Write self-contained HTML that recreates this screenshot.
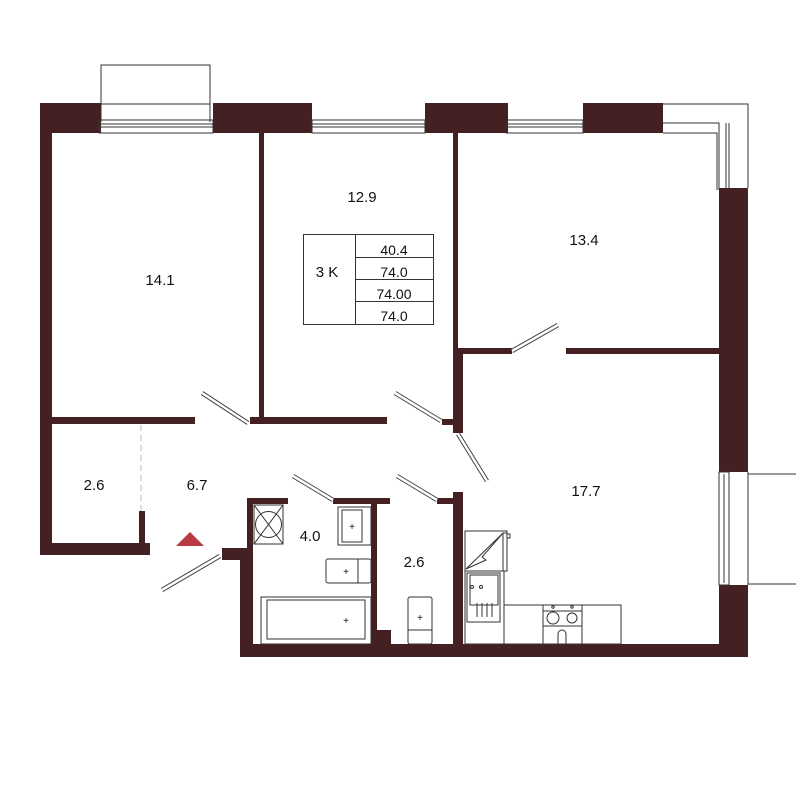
<!DOCTYPE html>
<html><head><meta charset="utf-8"><style>
html,body{margin:0;padding:0;background:#fff;}
svg{display:block}
text{font-family:"Liberation Sans",sans-serif;fill:#111;}
</style></head><body>
<svg width="800" height="800" viewBox="0 0 800 800" xmlns="http://www.w3.org/2000/svg">
<g fill="#452023">
<!-- top wall segments -->
<rect x="40" y="103" width="61" height="30"/>
<rect x="213" y="103" width="99" height="30"/>
<rect x="425" y="103" width="83" height="30"/>
<rect x="583" y="103" width="80" height="30"/>
<!-- left wall -->
<rect x="40" y="103" width="12" height="452"/>
<rect x="40" y="543" width="110" height="12"/>
<rect x="139" y="511" width="6" height="37"/>
<!-- right wall -->
<rect x="719" y="188" width="29" height="284"/>
<rect x="719" y="585" width="29" height="72"/>
<!-- bottom wall -->
<rect x="240" y="644" width="508" height="13"/>
<!-- interior -->
<rect x="259" y="133" width="5" height="290"/>
<rect x="52" y="417" width="143" height="7"/>
<rect x="250" y="417" width="137" height="7"/>
<rect x="453" y="133" width="5" height="300"/>
<rect x="453" y="348" width="10" height="85"/>
<rect x="442" y="419" width="12" height="6"/>
<rect x="463" y="348" width="49" height="6"/>
<rect x="566" y="348" width="153" height="6"/>
<!-- bathroom block -->
<rect x="222" y="548" width="31" height="12"/>
<rect x="240" y="548" width="13" height="109"/>
<rect x="247" y="498" width="6" height="60"/>
<rect x="247" y="498" width="41" height="6"/>
<rect x="333" y="498" width="57" height="6"/>
<rect x="371" y="498" width="6" height="146"/>
<rect x="371" y="630" width="20" height="14"/>
<rect x="437" y="498" width="16" height="6"/>
<rect x="453" y="492" width="10" height="152"/>
</g>
<g fill="none" stroke="#333" stroke-width="1">
<!-- balcony top -->
<rect x="101" y="65" width="109" height="39"/>
<line x1="101" y1="104" x2="101" y2="122"/><line x1="210" y1="104" x2="210" y2="122"/>
<!-- windows top -->
<rect x="99" y="120" width="114" height="13"/><line x1="99" y1="124" x2="213" y2="124"/><line x1="99" y1="127" x2="213" y2="127"/>
<rect x="312" y="120" width="113" height="13"/><line x1="312" y1="124" x2="425" y2="124"/><line x1="312" y1="127" x2="425" y2="127"/>
<rect x="506" y="120" width="77" height="13"/><line x1="506" y1="124" x2="583" y2="124"/><line x1="506" y1="127" x2="583" y2="127"/>
<!-- corner window -->
<polyline points="663,104 748,104 748,188"/>
<polyline points="663,123 719,123 719,190"/>
<polyline points="663,133 717,133 717,190"/>
<line x1="726" y1="123" x2="726" y2="190"/><line x1="729" y1="123" x2="729" y2="190"/>
<!-- right window & balcony -->
<rect x="719" y="472" width="10" height="113"/><line x1="724" y1="474" x2="724" y2="583"/>
<polyline points="748,474 796,474"/><polyline points="748,584 796,584"/><line x1="748" y1="472" x2="748" y2="585"/>
<!-- table -->
<rect x="303.5" y="234.5" width="130" height="90"/>
<line x1="355.5" y1="234" x2="355.5" y2="324"/>
<line x1="355" y1="257.5" x2="433" y2="257.5"/>
<line x1="355" y1="279.5" x2="433" y2="279.5"/>
<line x1="355" y1="301.5" x2="433" y2="301.5"/>
<!-- bathroom fixtures -->
<rect x="254" y="505" width="29" height="39"/>
<line x1="254" y1="505" x2="283" y2="544"/><line x1="283" y1="505" x2="254" y2="544"/>
<circle cx="268.5" cy="524.5" r="13"/>
<rect x="338" y="507" width="33" height="38"/><rect x="342" y="510" width="20" height="32"/>
<rect x="326" y="559" width="45" height="24" rx="2"/><line x1="358" y1="559" x2="358" y2="583"/>
<rect x="261" y="597" width="110" height="47"/><rect x="267" y="600" width="98" height="39"/>
<rect x="408" y="597" width="24" height="47" rx="2"/><line x1="408" y1="630" x2="432" y2="630"/>
<!-- kitchen -->
<rect x="465" y="531" width="42" height="40"/><polyline points="466,569 503,533 482,557 486,560 466,569"/>
<rect x="503" y="533" width="4" height="38"/><rect x="507" y="534" width="3" height="4"/>
<rect x="465" y="571" width="39" height="73"/><rect x="467" y="573" width="33" height="49"/><rect x="470" y="575" width="28" height="30"/>
<line x1="477" y1="603" x2="477" y2="617"/><line x1="482" y1="603" x2="482" y2="617"/><line x1="487" y1="603" x2="487" y2="617"/><line x1="492" y1="603" x2="492" y2="617"/>
<circle cx="472" cy="587" r="1.5"/><circle cx="481" cy="587" r="1.5"/>
<rect x="504" y="605" width="117" height="39"/>
<rect x="543" y="605" width="39" height="39"/><line x1="543" y1="611" x2="582" y2="611"/><line x1="543" y1="626" x2="582" y2="626"/>
<circle cx="553" cy="618" r="6"/><circle cx="572" cy="618" r="5"/>
<circle cx="553" cy="607" r="1.2"/><circle cx="572" cy="607" r="1.2"/>
<path d="M558,644 V634 a4,4 0 0 1 8,0 V644"/>
</g>
<!-- dashed -->
<line x1="141" y1="425" x2="141" y2="511" stroke="#bbb" stroke-dasharray="6,4"/>
<!-- doors -->
<g stroke="#444" stroke-width="4.5" stroke-linecap="butt">
<line x1="202" y1="393" x2="248" y2="423"/>
<line x1="395" y1="393" x2="441" y2="421"/>
<line x1="512" y1="351" x2="558" y2="325"/>
<line x1="458" y1="434" x2="487" y2="481"/>
<line x1="293" y1="476" x2="333" y2="500"/>
<line x1="397" y1="476" x2="437" y2="500"/>
<line x1="162" y1="590" x2="220" y2="556"/>
</g>
<g stroke="#fff" stroke-width="2.5">
<line x1="202" y1="393" x2="248" y2="423"/>
<line x1="395" y1="393" x2="441" y2="421"/>
<line x1="512" y1="351" x2="558" y2="325"/>
<line x1="458" y1="434" x2="487" y2="481"/>
<line x1="293" y1="476" x2="333" y2="500"/>
<line x1="397" y1="476" x2="437" y2="500"/>
<line x1="162" y1="590" x2="220" y2="556"/>
</g>
<polygon points="176,546 190,532 204,546" fill="#b83a42"/>
<g font-size="15" text-anchor="middle">
<text x="160" y="285">14.1</text>
<text x="362" y="202">12.9</text>
<text x="584" y="245">13.4</text>
<text x="94" y="490">2.6</text>
<text x="197" y="490">6.7</text>
<text x="310" y="541">4.0</text>
<text x="414" y="567">2.6</text>
<text x="586" y="496">17.7</text>
<text x="327" y="277">3 K</text>
<text x="394" y="255" font-size="14">40.4</text>
<text x="394" y="277" font-size="14">74.0</text>
<text x="394" y="299" font-size="14">74.00</text>
<text x="394" y="321" font-size="14">74.0</text>
</g>
<g font-size="10" text-anchor="middle">
<text x="352" y="530">+</text><text x="346" y="575">+</text><text x="346" y="624">+</text><text x="420" y="621">+</text>
</g>
</svg>
</body></html>
